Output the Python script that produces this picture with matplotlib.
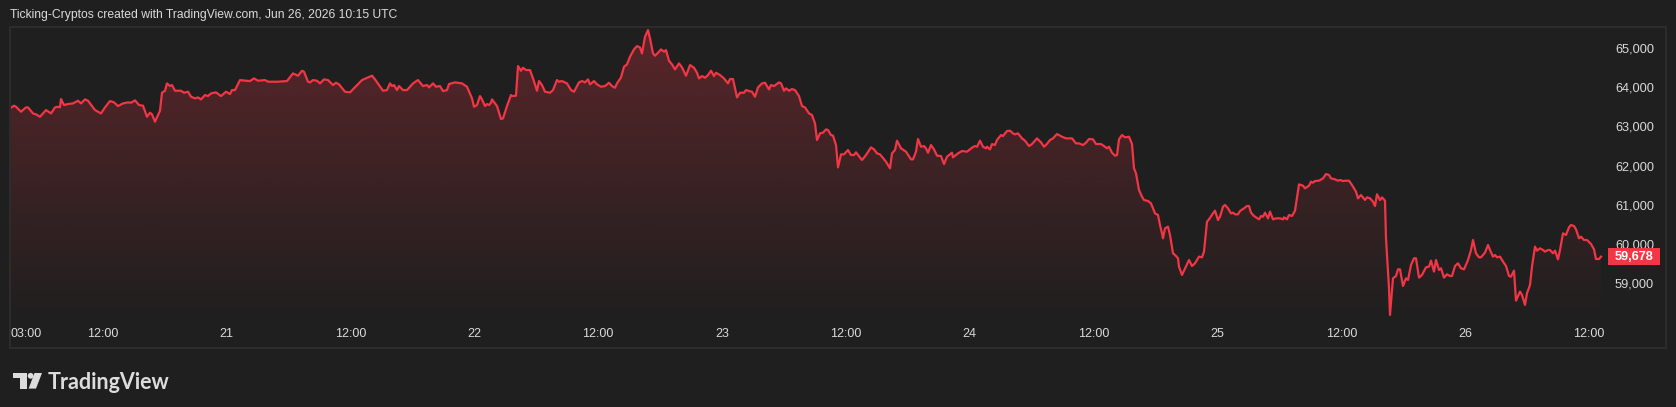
import numpy as np
import matplotlib
matplotlib.use("Agg")
import matplotlib.pyplot as plt
from matplotlib.patches import Rectangle, Polygon, Circle
from matplotlib.transforms import Affine2D

# ---------------- data ----------------
# sample index on the time scale (1 step ~ 5.8 minutes), starting Jun 20 03:00
bar = [0, 4, 6, 11, 16, 18, 23, 26, 30, 36, 41, 45, 48, 50, 51, 54, 58, 63, 68, 71, 75, 78, 85, 91, 95,
       100, 104, 108, 113, 118, 121, 125, 129, 133, 137, 140, 142, 145, 150, 152, 155, 157, 160, 162, 165,
       171, 174, 178, 181, 185, 188, 191, 195, 198, 201, 206, 211, 216, 220, 222, 225, 230, 236, 240, 244,
       248, 255, 258, 268,
       277, 283, 288, 292, 294, 298, 300, 303, 307, 310, 314, 318, 323, 326, 329, 335, 340, 352, 358, 362,
       365, 373, 377, 380, 382, 384, 387, 389, 393, 397, 403, 408, 413, 417, 419, 423, 426, 430, 433, 437,
       439, 445, 452, 457, 462, 464, 467, 470, 472, 475, 477, 479, 481, 482, 485, 487, 491, 493, 497, 501,
       502, 506, 508, 511, 513, 516, 520, 523, 527, 529, 532,
       535, 540, 543, 547, 549, 552, 557, 561, 564, 569, 572, 575, 578, 580, 584, 587, 591, 595, 599, 602,
       605, 607, 611, 614, 617, 620, 624, 627, 630, 632, 635, 638, 640, 643, 645, 649, 651, 654, 656, 659,
       662, 665, 669, 672, 676, 680, 684, 687, 689, 692, 695, 698, 701, 704, 706, 710, 714, 718, 720, 723,
       727, 730, 734, 736, 739, 742, 745, 748, 752, 755, 759, 761, 764, 769, 771, 774, 776, 779, 782, 785,
       789, 792, 795, 799, 802,
       805, 807, 810, 813, 816, 818, 821, 823, 826, 828, 831, 834, 838, 841, 844, 846, 852, 856, 861, 864,
       867, 870, 876, 880, 882, 885, 887, 891, 896, 901, 903, 906, 908, 911, 914, 916, 918, 921, 924, 927,
       931, 934, 937, 942, 943, 948, 952, 957, 962, 965, 967, 970, 973, 976, 977, 980, 982, 985, 987, 991,
       993, 997, 1000, 1003, 1005, 1008, 1012, 1015, 1019, 1022, 1027, 1031, 1034, 1036, 1040, 1043, 1047,
       1050, 1052, 1056, 1059, 1062, 1066, 1069,
       1073, 1076, 1079, 1083, 1086, 1091, 1094, 1097, 1099, 1102, 1105, 1107, 1109, 1112, 1115, 1119, 1122,
       1124, 1126, 1129, 1132, 1134, 1138, 1141, 1143, 1145, 1148, 1150, 1152, 1153, 1155, 1158, 1160, 1163,
       1165, 1168, 1169, 1172, 1174, 1177, 1179, 1182, 1185, 1189, 1192, 1194, 1197, 1199, 1203, 1205, 1208,
       1210, 1213, 1215, 1218, 1221, 1223, 1225, 1228, 1230, 1234, 1237, 1239, 1241, 1244, 1249, 1251, 1253,
       1255, 1258, 1260, 1263, 1266, 1270, 1273, 1274, 1277, 1279, 1282, 1285, 1289, 1293, 1295, 1299, 1301,
       1303, 1305, 1309, 1313, 1316, 1319, 1321, 1325, 1328, 1330, 1333, 1336,
       1339, 1342, 1346, 1348, 1351, 1355, 1357, 1360, 1363, 1365, 1367, 1370, 1372, 1375, 1376, 1379, 1380,
       1383, 1386, 1388, 1390, 1393, 1396, 1398, 1401, 1404, 1406, 1409, 1412, 1416, 1419, 1421, 1424, 1426,
       1429, 1431, 1434, 1437, 1440, 1442, 1445, 1448, 1451, 1454, 1458, 1461, 1463, 1466, 1469, 1471, 1475,
       1478, 1480, 1483, 1485, 1487, 1490, 1493, 1496, 1499, 1501, 1504, 1506, 1510, 1512, 1515, 1517, 1520,
       1522, 1525, 1527, 1530, 1533, 1535, 1538, 1540, 1543, 1545, 1548, 1550, 1553, 1556, 1559, 1561, 1564,
       1566, 1569, 1571, 1574, 1577, 1581, 1584, 1586, 1589, 1591]

price = [63460, 63528, 63502, 63375, 63485, 63485, 63332, 63307, 63247, 63417, 63332, 63485, 63502, 63485,
         63698, 63545, 63570, 63587, 63655, 63587, 63689, 63655, 63417, 63332, 63485, 63647, 63613, 63519,
         63587, 63613, 63604, 63664, 63545, 63528, 63247, 63349, 63307, 63120, 63400, 63859, 63910, 64097,
         64029, 64055, 63910, 63910, 63859, 63885, 63757, 63715, 63740, 63689, 63800, 63774, 63842, 63868,
         63774, 63885, 63825, 63927, 63927, 64182, 64165, 64157, 64225, 64165, 64182, 64140, 64140,
         64157, 64352, 64293, 64420, 64395, 64140, 64123, 64182, 64165, 64097, 64199, 64182, 64055, 64114,
         64072, 63885, 63868, 64182, 64250, 64293, 64199, 63910, 63927, 64097, 64029, 64055, 63927, 64029,
         63927, 63927, 64097, 64182, 64029, 64055, 63995, 64097, 64012, 64029, 63902, 63927, 64080, 64123,
         64097, 64012, 63715, 63502, 63545, 63774, 63689, 63519, 63570, 63545, 63604, 63689, 63587, 63519,
         63188, 63205, 63519, 63800, 63774, 63783, 64539, 64420, 64497, 64437, 64437, 64225, 63910, 64157,
         64055,
         63885, 63859, 63927, 64182, 64140, 64157, 64097, 63927, 63885, 64123, 64157, 64123, 64199, 64072,
         64157, 64072, 64012, 64029, 64114, 64029, 63987, 64097, 64250, 64522, 64582, 64777, 64964, 65049,
         65015, 64862, 65287, 65457, 65245, 64862, 64803, 64905, 64964, 64905, 64947, 64675, 64582, 64454,
         64607, 64505, 64293, 64565, 64497, 64369, 64225, 64284, 64242, 64310, 64420, 64284, 64369, 64310,
         64225, 64097, 64208, 64208, 63740, 63859, 63859, 63927, 63902, 63885, 63757, 63995, 64097, 64114,
         63944, 64055, 64029, 64123, 64097, 63910, 63970, 63910, 63953, 63927, 63774, 63519, 63485, 63332,
         63290,
         63077, 62652, 62822, 62839, 62924, 62907, 62780, 62763, 62525, 61955, 62287, 62287, 62397, 62270,
         62270, 62338, 62142, 62270, 62465, 62414, 62312, 62287, 62100, 61930, 62312, 62397, 62635, 62440,
         62355, 62159, 62159, 62355, 62678, 62482, 62499, 62440, 62329, 62525, 62414, 62253, 62244, 62040,
         62227, 62329, 62210, 62312, 62372, 62355, 62457, 62499, 62482, 62635, 62482, 62440, 62482, 62414,
         62550, 62525, 62652, 62780, 62754, 62882, 62890, 62822, 62797, 62822, 62695, 62635, 62499, 62550,
         62695, 62593, 62482, 62525, 62652, 62695, 62805, 62763, 62737, 62695, 62695, 62695, 62567, 62567,
         62525, 62584, 62678, 62669, 62550, 62550, 62499, 62440, 62482, 62329, 62253, 62270, 62669, 62780,
         62720, 62737, 62550, 61930, 61802, 61377, 61207, 61122, 61097, 61037, 60910, 60782, 60740, 60485,
         60272, 60145, 60400, 60442, 60230, 59762, 59720, 59635, 59422, 59210, 59320, 59482, 59592, 59439,
         59507, 59677, 59660, 59805, 60570, 60629, 60782, 60850, 60612, 60697, 60952, 60995, 60910, 60782,
         60799, 60757, 60757, 60842, 60910, 60969, 60969, 60799, 60714, 60629, 60714, 60697, 60799, 60655,
         60825, 60629, 60655, 60655, 60629, 60680, 60629, 60740, 60714, 60850, 61522, 61488, 61420, 61488,
         61590, 61564, 61607, 61615, 61675, 61785, 61760, 61675, 61649, 61615, 61632, 61607, 61615,
         61615, 61505, 61335, 61165, 61250, 61122, 61190, 61165, 61080, 60969, 61267, 61122, 61190, 61105,
         60145, 58870, 58190, 59125, 59184, 59354, 59354, 58929, 59125, 59082, 59465, 59635, 59635, 59142,
         59210, 59405, 59422, 59575, 59295, 59592, 59337, 59380, 59142, 59227, 59184, 59184, 59439, 59507,
         59380, 59354, 59592, 59847, 60102, 59762, 59660, 59660, 59779, 59975, 59847, 59677, 59720, 59660,
         59677, 59550, 59439, 59184, 59167, 59320, 58555, 58785, 58700, 58445, 58742, 58955, 59422, 59932,
         59830, 59890, 59847, 59805, 59847, 59847, 59762, 59830, 59609, 59847, 60272, 60230, 60425, 60485,
         60459, 60374, 60145, 60187, 60102, 60102, 60000, 59864, 59617, 59617, 59678]

tick_hours = [3, 12, 24, 36, 48, 60, 72, 84, 96, 108, 120, 132, 144, 156]
tick_labels = ['03:00', '12:00', '21', '12:00', '22', '12:00', '23', '12:00', '24', '12:00',
               '25', '12:00', '26', '12:00']
price_ticks = [59000, 60000, 61000, 62000, 63000, 64000, 65000]
last_price = price[-1]
title = "Ticking-Cryptos created with TradingView.com, Jun 26, 2026 10:15 UTC"

# ---------------- styling ----------------
W, H = 1676, 407
BG = '#1f1f1f'
RED = '#f23645'
TXT = '#dadada'
FRAME = '#2c2c2c'
FONT = 'Liberation Sans'

hours_per_step = 1 / 10.32
t = 3 + np.array(bar) * hours_per_step
p = np.array(price, dtype=float)

fig = plt.figure(figsize=(W / 100, H / 100), dpi=100, facecolor=BG)

def fx(px):
    return px / W

def fy(py):
    return 1 - py / H

ax_l, ax_r, ax_t, ax_b = 10, 1607, 27, 320
ax = fig.add_axes([fx(ax_l), fy(ax_b), fx(ax_r - ax_l), (ax_b - ax_t) / H])
ax.set_facecolor(BG)
for s in ax.spines.values():
    s.set_visible(False)

x0, x1 = 3, 3 + (ax_r - ax_l) * hours_per_step
y0, y1 = 58061, 65536
ax.set_xlim(x0, x1)
ax.set_ylim(y0, y1)

# gradient area
poly_xy = np.column_stack([np.r_[t[0], t, t[-1]], np.r_[y0, p, y0]])
poly = Polygon(poly_xy, closed=True, facecolor='none', edgecolor='none', transform=ax.transData)
ax.add_patch(poly)
n = 256
alpha = np.linspace(0.28, 0.0, n)
rgba = np.zeros((n, 1, 4))
rgba[:, 0, 0] = 242 / 255
rgba[:, 0, 1] = 54 / 255
rgba[:, 0, 2] = 69 / 255
rgba[:, 0, 3] = alpha
im = ax.imshow(rgba, extent=[x0, x1, y0, p.max()], aspect='auto', origin='upper', zorder=1,
               interpolation='bilinear')
im.set_clip_path(poly)

ax.plot(t, p, color=RED, lw=1.6, zorder=3, solid_joinstyle='round')

# x ticks
ax.set_xticks(tick_hours)
ax.set_xticklabels(tick_labels)
ax.tick_params(axis='x', length=0, pad=6, labelsize=9, labelcolor=TXT)
for lab in ax.get_xticklabels():
    lab.set_fontfamily(FONT)
ax.get_xticklabels()[0].set_horizontalalignment('left')

# y ticks on right, right-aligned
ax.yaxis.tick_right()
ax.set_yticks(price_ticks)
ax.set_yticklabels([f"{v:,}" for v in price_ticks])
ax.tick_params(axis='y', length=0, pad=47 * 0.72, labelsize=9.2, labelcolor=TXT)
for lab in ax.get_yticklabels():
    lab.set_fontfamily(FONT)
    lab.set_horizontalalignment('right')

# pixel-space transform (top-left origin)
pix = Affine2D().scale(1 / W, -1 / H).translate(0, 1) + fig.transFigure

# frame
fig.patches.append(Rectangle((10, 27), 1656, 321, transform=pix, fill=False, ec=FRAME, lw=1.5))

# last price tag
fig.canvas.draw()
ydisp = ax.transData.transform((x0, last_price))[1]
ypix = H - ydisp
fig.patches.append(Rectangle((1608, ypix - 8.5), 52, 17, transform=pix, fc=RED, ec='none', zorder=5))
fig.text(fx(1654), fy(ypix), f"{last_price:,}", color='white', fontsize=9.2, fontweight='bold',
         family=FONT, ha='right', va='center', zorder=6)

# title
fig.text(fx(10), fy(15), title, color=TXT, fontsize=8.7, family=FONT, ha='left', va='center')

# TradingView logo
logo_col = '#dcdcdc'
fig.patches.append(Polygon([(12.5, 373), (26.8, 373), (26.8, 388.6), (19.6, 388.6), (19.6, 378.2),
                            (12.5, 378.2)], closed=True, transform=pix, fc=logo_col, ec='none'))
fig.patches.append(Circle((30.6, 375.8), 2.9, transform=pix, fc=logo_col, ec='none'))
fig.patches.append(Polygon([(34.5, 373), (42.0, 373), (36.0, 388.6), (28.6, 388.6)], closed=True,
                           transform=pix, fc=logo_col, ec='none'))
fig.text(fx(48), fy(388.6), "TradingView", color=logo_col, fontsize=15.5, fontweight='bold',
         family='Lato', ha='left', va='baseline')

fig.savefig('out.png', dpi=100, facecolor=BG)
